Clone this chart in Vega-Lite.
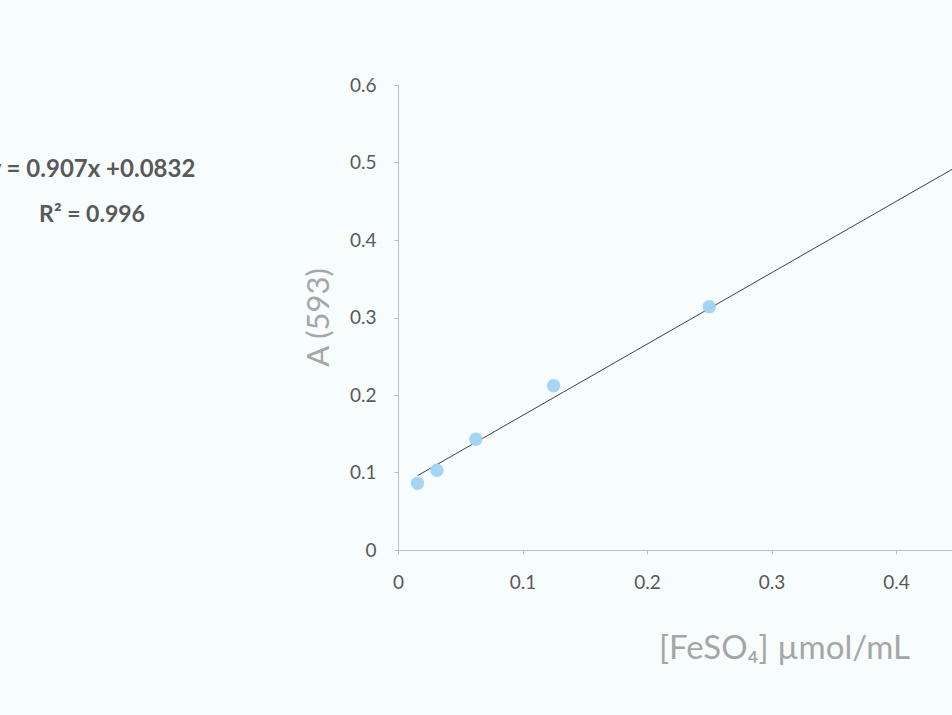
{
  "$schema": "https://vega.github.io/schema/vega-lite/v6.json",
  "width": 554,
  "height": 465,
  "autosize": {"type": "none"},
  "padding": {"left": 398, "top": 85, "right": 0, "bottom": 165},
  "background": "#f7fcfd",
  "config": {"view": {"stroke": null}, "font": "Lato"},
  "title": {
    "text": "y = 0.907x +0.0832",
    "subtitle": "R² = 0.996",
    "anchor": "start",
    "frame": "group",
    "align": "center",
    "dx": -306,
    "dy": 155,
    "font": "Lato",
    "fontSize": 24,
    "fontWeight": "bold",
    "color": "#595959",
    "subtitleFont": "Lato",
    "subtitleFontSize": 23,
    "subtitleFontWeight": "bold",
    "subtitleColor": "#595959",
    "subtitlePadding": 22
  },
  "data": {
    "values": [
      {"conc": 0.015625, "A": 0.086},
      {"conc": 0.03125, "A": 0.103},
      {"conc": 0.0625, "A": 0.143},
      {"conc": 0.125, "A": 0.212},
      {"conc": 0.25, "A": 0.314},
      {"conc": 0.5, "A": 0.537}
    ]
  },
  "encoding": {
    "x": {
      "field": "conc",
      "type": "quantitative",
      "scale": {"domain": [0, 0.6], "range": [0, 747], "nice": false, "zero": true},
      "axis": {
        "title": "[FeSO₄] µmol/mL",
        "values": [0, 0.1, 0.2, 0.3, 0.4],
        "format": "~g",
        "grid": false,
        "domainColor": "#bfbfbf",
        "tickColor": "#bfbfbf",
        "tickSize": 4,
        "labelColor": "#595959",
        "labelFontSize": 19,
        "labelPadding": 19,
        "labelFlush": false,
        "titleColor": "#a6a6a6",
        "titleFontSize": 33,
        "titleFontWeight": "normal",
        "titleX": 386,
        "titleY": 98,
        "titleBaseline": "middle",
        "titleAlign": "center"
      }
    },
    "y": {
      "field": "A",
      "type": "quantitative",
      "scale": {"domain": [0, 0.6], "nice": false},
      "axis": {
        "title": "A (593)",
        "values": [0, 0.1, 0.2, 0.3, 0.4, 0.5, 0.6],
        "format": "~g",
        "grid": false,
        "domainColor": "#bfbfbf",
        "tickColor": "#bfbfbf",
        "tickSize": 4,
        "labelColor": "#595959",
        "labelFontSize": 19,
        "labelPadding": 18,
        "titleColor": "#a6a6a6",
        "titleFontSize": 31,
        "titleFontWeight": "normal",
        "titleAngle": 270,
        "titleX": -79,
        "titleY": 232,
        "titleBaseline": "middle",
        "titleAlign": "center"
      }
    }
  },
  "layer": [
    {
      "transform": [{"regression": "A", "on": "conc"}],
      "mark": {"type": "line", "color": "#404040", "strokeWidth": 1, "clip": true}
    },
    {
      "mark": {"type": "point", "filled": true, "size": 180, "color": "#9fd3f2", "opacity": 0.95, "clip": true}
    }
  ]
}
